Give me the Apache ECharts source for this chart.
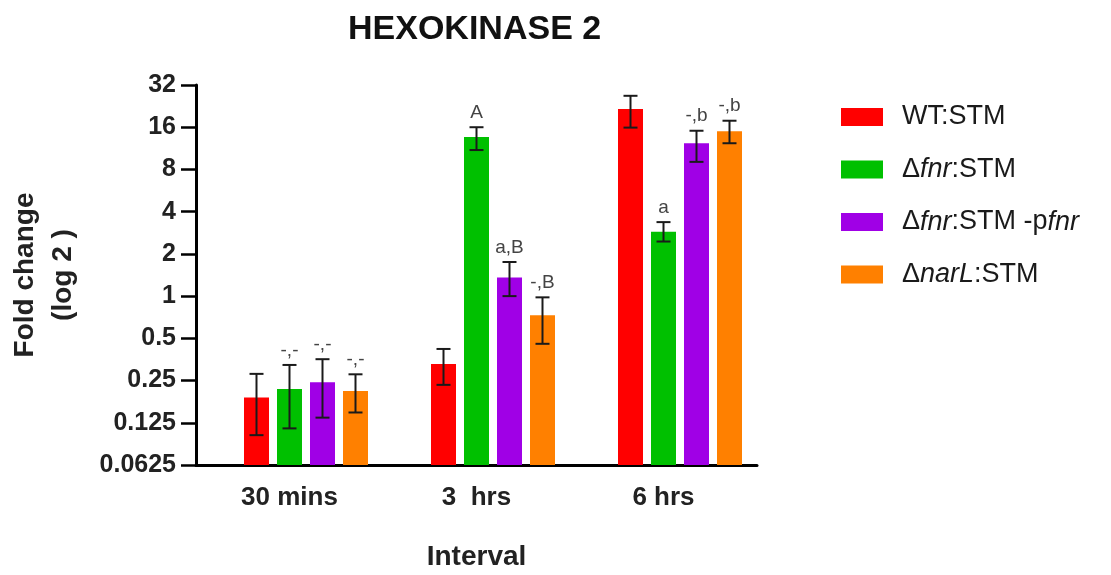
<!DOCTYPE html>
<html><head><meta charset="utf-8">
<script src="https://cdn.jsdelivr.net/npm/echarts@6/dist/echarts.min.js"></script>
<style>html,body{margin:0;padding:0;background:#fff}#c{width:1111px;height:575px}</style>
</head><body><div id="c"></div>
<script>
const categories = ['30 mins', '3  hrs', '6 hrs'];
const seriesNames = ['WT:STM', 'Δfnr:STM', 'Δfnr:STM-pfnr', 'ΔnarL:STM'];
const wt      = [0.189, 0.328, 21.6];
const fnr     = [0.218, 13.6, 2.88];
const fnrComp = [0.243, 1.357, 12.3];
const narL    = [0.211, 0.73, 15.0];
const wtLow = [0.102, 0.233, 15.9],  wtHigh = [0.279, 0.42, 26.8];
const fnrLow = [0.114, 11.0, 2.45],  fnrHigh = [0.323, 16.0, 3.37];
const compLow = [0.136, 1.0, 9.06],  compHigh = [0.355, 1.75, 15.1];
const narLow = [0.148, 0.457, 12.3], narHigh = [0.277, 0.98, 17.8];
const wtLabels   = ['', '', ''];
const fnrLabels  = ['-,-', 'A', 'a'];
const compLabels = ['-,-', 'a,B', '-,b'];
const narLabels  = ['-,-', '-,B', '-,b'];
const yTickLabels = ['0.0625', '0.125', '0.25', '0.5', '1', '2', '4', '8', '16', '32'];
const colors = ['#FF0000', '#00C000', '#A000E6', '#FF8000'];

const BAR_W = 25, GAP = 8;
const values = [wt, fnr, fnrComp, narL];
const lows = [wtLow, fnrLow, compLow, narLow];
const highs = [wtHigh, fnrHigh, compHigh, narHigh];
const labels = [wtLabels, fnrLabels, compLabels, narLabels];

const errData = [], errMeta = [];
for (let s = 0; s < 4; s++) for (let c = 0; c < categories.length; c++) {
  errData.push([c, highs[s][c], lows[s][c]]);
  errMeta.push({s: s, label: labels[s][c]});
}

const chart = echarts.init(document.getElementById('c'));
const boldFont = 'Liberation Sans';
const legendRich = {
  n: {fontSize: 27, fontFamily: boldFont, color: '#1a1a1a'},
  i: {fontSize: 27, fontFamily: boldFont, fontStyle: 'italic', color: '#1a1a1a'}
};
function legendFmt(name) {
  if (name === 'WT:STM') return '{n|WT:STM}';
  if (name === 'Δfnr:STM') return '{n|Δ}{i|fnr}{n|:STM}';
  if (name === 'Δfnr:STM-pfnr') return '{n|Δ}{i|fnr}{n|:STM -p}{i|fnr}';
  if (name === 'ΔnarL:STM') return '{n|Δ}{i|narL}{n|:STM}';
  return name;
}

const barSeries = [{
  type: 'bar', name: '_pad', data: [null, null, null], barWidth: BAR_W, barGap: (GAP / BAR_W * 100) + '%', silent: true
}];
for (let s = 0; s < 4; s++) {
  barSeries.push({
    type: 'bar', name: seriesNames[s], data: values[s], barWidth: BAR_W,
    barGap: (GAP / BAR_W * 100) + '%',
    itemStyle: {color: colors[s]}, z: 2
  });
}

const option = {
  animation: false,
  title: {
    text: 'HEXOKINASE 2', left: 343, top: 8,
    textStyle: {fontFamily: boldFont, fontWeight: 'bold', fontSize: 34, color: '#111'}
  },
  legend: {
    data: seriesNames, orient: 'vertical', left: 836, top: 97,
    icon: 'rect', itemWidth: 42, itemHeight: 18, itemGap: 22.5,
    formatter: legendFmt,
    textStyle: {rich: legendRich, lineHeight: 30, padding: [0, 0, 0, 14]}
  },
  grid: {left: 196, right: 354, top: 85, bottom: 110, containLabel: false, outerBoundsMode: 'none'},
  xAxis: {
    type: 'category', data: categories,
    name: 'Interval', nameLocation: 'middle', nameGap: 78,
    nameTextStyle: {fontFamily: boldFont, fontWeight: 'bold', fontSize: 28, color: '#222'},
    axisLine: {lineStyle: {color: '#000', width: 3}},
    axisTick: {alignWithLabel: true, length: 14, lineStyle: {color: '#000', width: 2.5}},
    axisLabel: {margin: 20, fontFamily: boldFont, fontWeight: 'bold', fontSize: 26, color: '#222'}
  },
  yAxis: {
    type: 'log', logBase: 2, min: 0.0625, max: 32, interval: 1, startValue: 0.0625,
    name: 'Fold change\n(log 2 )', nameLocation: 'middle', nameRotate: 90, nameGap: 114,
    nameTextStyle: {fontFamily: boldFont, fontWeight: 'bold', fontSize: 28, lineHeight: 38, color: '#222', align: 'center'},
    axisLine: {show: true, lineStyle: {color: '#000', width: 3}},
    axisTick: {show: true, length: 15, lineStyle: {color: '#000', width: 2.5}},
    splitLine: {show: false},
    axisLabel: {
      margin: 20, fontFamily: boldFont, fontWeight: 'bold', fontSize: 25, color: '#222',
      formatter: function (v) {
        const e = Math.round(Math.log2(v)) + 4;
        return yTickLabels[e] !== undefined ? yTickLabels[e] : String(v);
      }
    }
  },
  series: barSeries.concat([{
    type: 'custom', name: 'err', data: errData, z: 5, silent: true,
    encode: {x: 0, y: 1},
    renderItem: function (params, api) {
      const meta = errMeta[params.dataIndex];
      const cat = api.value(0);
      const cx = api.coord([cat, 1])[0] + (meta.s - 1) * (BAR_W + GAP);
      const yTop = api.coord([cat, api.value(1)])[1];
      const yBot = api.coord([cat, api.value(2)])[1];
      const hw = 7;
      const st = {stroke: '#1a1a1a', lineWidth: 2};
      const children = [
        {type: 'line', shape: {x1: cx, y1: yTop, x2: cx, y2: yBot}, style: st},
        {type: 'line', shape: {x1: cx - hw, y1: yTop, x2: cx + hw, y2: yTop}, style: st},
        {type: 'line', shape: {x1: cx - hw, y1: yBot, x2: cx + hw, y2: yBot}, style: st}
      ];
      if (meta.label) {
        children.push({type: 'text', x: cx, y: yTop - 5, style: {
          text: meta.label, textAlign: 'center', textVerticalAlign: 'bottom',
          fontSize: 19, fontFamily: boldFont, fill: '#444'
        }});
      }
      return {type: 'group', children: children};
    }
  }])
};
chart.setOption(option);
</script>
</body></html>
